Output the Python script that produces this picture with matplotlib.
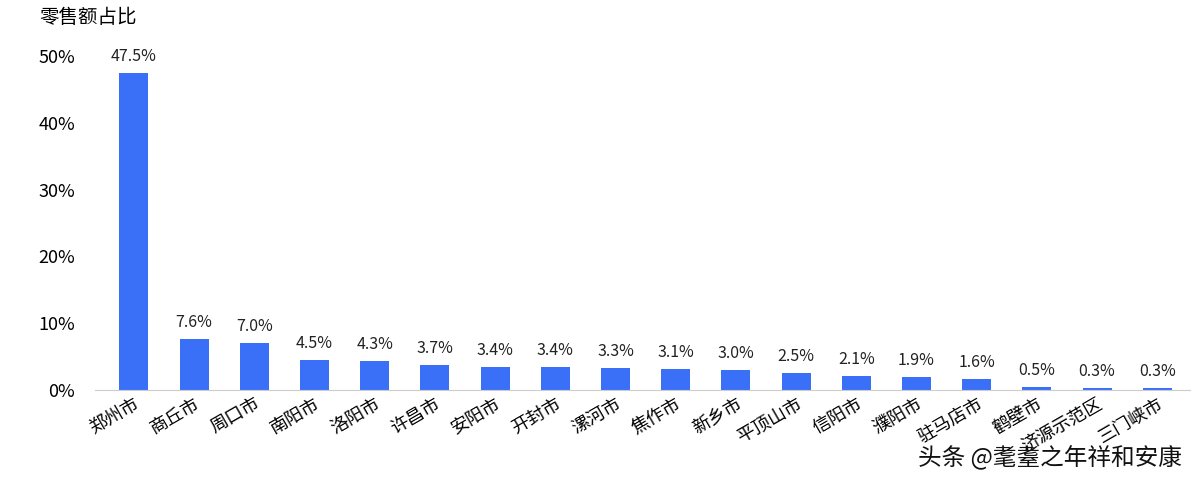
import matplotlib.pyplot as plt

plt.rcParams['font.family'] = ['Noto Sans CJK SC', 'DejaVu Sans']

cities = ['郑州市', '商丘市', '周口市', '南阳市', '洛阳市', '许昌市', '安阳市', '开封市', '漯河市',
          '焦作市', '新乡市', '平顶山市', '信阳市', '濮阳市', '驻马店市', '鹤壁市', '济源示范区', '三门峡市']
shares = [47.5, 7.6, 7.0, 4.5, 4.3, 3.7, 3.4, 3.4, 3.3, 3.1, 3.0, 2.5, 2.1, 1.9, 1.6, 0.5, 0.3, 0.3]

fig = plt.figure(figsize=(12, 4.87), dpi=100)
ax = fig.add_axes([0.079, 0.199, 0.913, 0.686])
x = range(len(cities))
ax.bar(x, shares, width=0.48, color='#3a6ff7')
for i, v in zip(x, shares):
    ax.text(i, v + 1.2, f'{v:.1f}%', ha='center', va='bottom', fontsize=11.5, color='#222222')

ax.set_xlim(-0.65, len(cities) - 0.45)
ax.set_ylim(0, 50)
ax.set_yticks([0, 10, 20, 30, 40, 50])
ax.set_yticklabels([f'{t}%' for t in [0, 10, 20, 30, 40, 50]], fontsize=13)
ax.set_xticks(list(x))
ax.set_xticklabels(cities, rotation=30, ha='right', rotation_mode='anchor', fontsize=13)
ax.tick_params(axis='both', length=0)
ax.tick_params(axis='y', pad=14)
for s in ['top', 'right', 'left']:
    ax.spines[s].set_visible(False)
ax.spines['bottom'].set_color('#cccccc')

fig.text(0.033, 0.965, '零售额占比', fontsize=14, ha='left', va='center')
fig.text(0.985, 0.06, '头条 @耄耋之年祥和安康', fontsize=17, ha='right', va='center', color='#111111')

fig.savefig('out.png', dpi=100)
